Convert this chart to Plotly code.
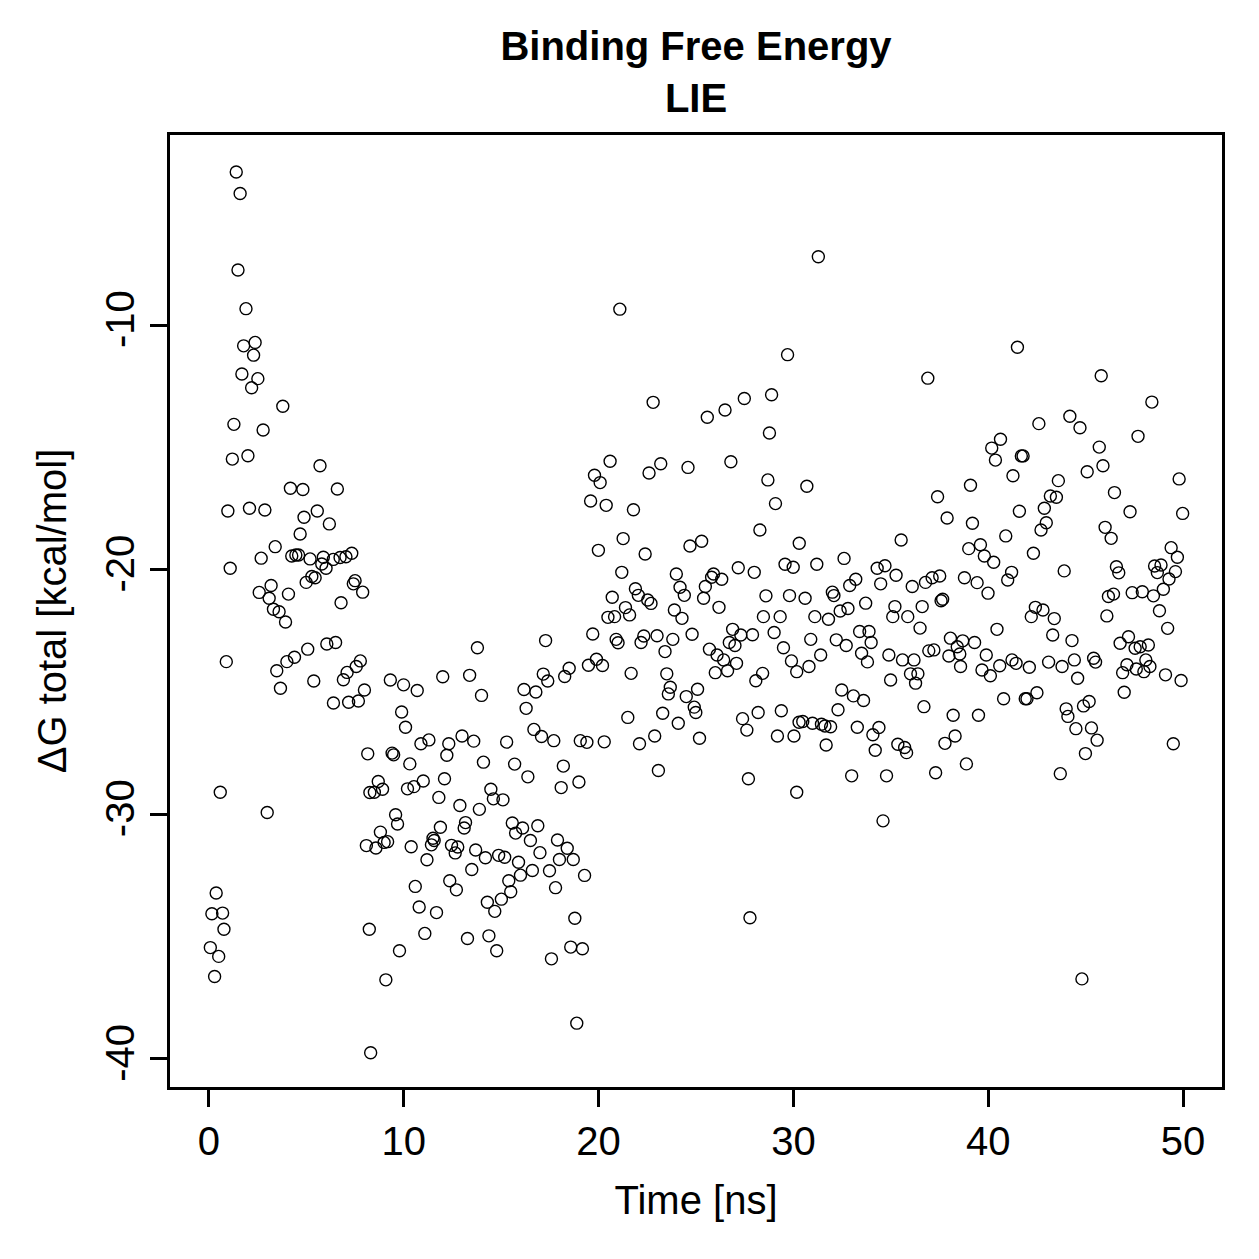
import plotly.graph_objects as go

time_ns = [
    0.07, 0.15, 0.29, 0.37, 0.5, 0.58, 0.7, 0.77, 0.89, 0.97, 1.09, 1.2, 1.28, 1.4, 1.49, 1.6, 1.69, 1.78, 1.9, 2.0,
    2.08, 2.19, 2.29, 2.37, 2.51, 2.58, 2.68, 2.78, 2.87, 2.99, 3.09, 3.19, 3.31, 3.4, 3.48, 3.6, 3.67, 3.79, 3.93, 4.0,
    4.08, 4.18, 4.25, 4.39, 4.46, 4.6, 4.68, 4.82, 4.88, 4.99, 5.07, 5.19, 5.28, 5.38, 5.45, 5.56, 5.7, 5.79, 5.87, 6.01,
    6.05, 6.18, 6.38, 6.39, 6.5, 6.59, 6.73, 6.78, 6.9, 7.03, 7.09, 7.17, 7.33, 7.41, 7.5, 7.56, 7.67, 7.77, 7.89, 7.98,
    8.08, 8.15, 8.23, 8.26, 8.3,
    8.49, 8.57, 8.69, 8.8, 8.91, 8.99, 9.08, 9.17, 9.31, 9.4, 9.48, 9.58, 9.68, 9.78, 9.89, 9.99, 10.09, 10.19, 10.31, 10.38,
    10.52, 10.59, 10.69, 10.79, 10.88, 11.0, 11.08, 11.19, 11.29, 11.42, 11.5, 11.56, 11.68, 11.8, 11.88, 12.0, 12.09, 12.21, 12.31, 12.36,
    12.45, 12.64, 12.7, 12.77, 12.88, 12.99, 13.1, 13.17, 13.27, 13.38, 13.49, 13.59, 13.69, 13.78, 13.88, 13.99, 14.09, 14.19, 14.29, 14.37,
    14.47, 14.6, 14.67, 14.77, 14.87, 15.01, 15.09, 15.18, 15.28, 15.39, 15.49, 15.57, 15.69, 15.74, 15.89, 15.99, 16.1, 16.17, 16.28, 16.37,
    16.5, 16.6, 16.68, 16.78, 16.88, 16.99, 17.07, 17.16, 17.28, 17.39, 17.48, 17.58, 17.7, 17.79, 17.89, 17.99, 18.08, 18.19, 18.26, 18.39,
    18.49, 18.57, 18.7, 18.78, 18.88, 18.99, 19.06, 19.17, 19.28, 19.4, 19.48, 19.7, 19.89, 20.2, 20.29, 20.48,
    19.59, 19.79, 19.99, 20.08, 20.39, 20.59, 20.7, 20.82, 20.9, 21.0, 21.09, 21.19, 21.26, 21.38, 21.5, 21.59, 21.67, 21.79, 21.89, 22.04,
    22.1, 22.18, 22.32, 22.39, 22.52, 22.59, 22.69, 22.8, 22.88, 23.0, 23.07, 23.19, 23.29, 23.41, 23.5, 23.58, 23.68, 23.81, 23.89, 23.99,
    24.09, 24.18, 24.28, 24.4, 24.5, 24.59, 24.69, 24.8, 24.91, 24.99, 25.08, 25.18, 25.29, 25.39, 25.48, 25.58, 25.69, 25.8, 25.9, 25.99,
    26.08, 26.18, 26.32, 26.42, 26.49, 26.62, 26.71, 26.79, 26.88, 27.0, 27.08, 27.17, 27.3, 27.39, 27.48, 27.61, 27.69, 27.77, 27.9, 27.99,
    28.07, 28.19, 28.28, 28.42, 28.46, 28.59, 28.69, 28.77, 28.88, 29.01, 29.08, 29.18, 29.32, 29.38, 29.49, 29.57, 29.7, 29.8, 29.9, 29.99,
    30.03, 30.17, 30.17, 30.29, 30.3,
    30.48, 30.6, 30.69, 30.8, 30.89, 30.98, 31.1, 31.2, 31.28, 31.4, 31.44, 31.62, 31.68, 31.8, 31.91, 32.0, 32.08, 32.2, 32.29, 32.4,
    32.48, 32.6, 32.71, 32.8, 32.89, 32.99, 33.08, 33.2, 33.28, 33.4, 33.5, 33.6, 33.71, 33.8, 33.88, 33.99, 34.08, 34.2, 34.3, 34.39,
    34.48, 34.6, 34.7, 34.78, 34.9, 34.99, 35.1, 35.21, 35.27, 35.36, 35.53, 35.6, 35.71, 35.81, 35.87, 36.01, 36.1, 36.19, 36.27, 36.39,
    36.5, 36.61, 36.7, 36.78, 36.9, 36.95, 37.12, 37.21, 37.3, 37.4, 37.51, 37.58, 37.66, 37.78, 37.89, 37.98, 38.06, 38.2, 38.3, 38.41,
    38.54, 38.58, 38.69, 38.78, 38.88, 39.0, 39.09, 39.19, 39.3, 39.43, 39.5, 39.6, 39.68, 39.8, 39.9, 39.99, 40.11, 40.18, 40.28, 40.37,
    40.45, 40.59, 40.63, 40.79, 40.9,
    41.0, 41.2, 41.22, 41.27, 41.43, 41.5, 41.6, 41.7, 41.79, 41.9, 41.99, 42.11, 42.21, 42.32, 42.42, 42.5, 42.6, 42.71, 42.81, 42.88,
    42.98, 43.1, 43.19, 43.31, 43.39, 43.5, 43.6, 43.7, 43.79, 43.9, 44.0, 44.09, 44.19, 44.3, 44.42, 44.5, 44.59, 44.71, 44.81, 44.89,
    44.99, 45.08, 45.18, 45.3, 45.41, 45.51, 45.59, 45.7, 45.8, 45.89, 46.0, 46.09, 46.17, 46.31, 46.43, 46.48, 46.58, 46.7, 46.77, 46.9,
    46.98, 47.12, 47.2, 47.28, 47.39, 47.54, 47.6, 47.69, 47.8, 47.91, 47.99, 48.09, 48.22, 48.3, 48.4, 48.48, 48.54, 48.68, 48.79, 48.87,
    48.99, 49.1, 49.21, 49.28, 49.39, 49.5, 49.61, 49.71, 49.8, 49.9, 49.98,
]

dG_total = [
    -35.45, -34.07, -36.63, -33.22, -35.81, -29.1, -34.04, -34.7, -23.76, -17.6, -19.94, -15.48, -14.06, -3.74, -7.75, -4.62, -12.0, -10.85, -9.33, -15.34,
    -17.49, -12.56, -11.23, -10.71, -12.19, -20.93, -19.53, -14.29, -17.56, -29.93, -21.17, -20.65, -21.62, -19.06, -24.13, -21.72, -24.85, -13.32, -22.14, -23.76,
    -21.0, -16.67, -19.44, -23.58, -19.4, -19.4, -18.54, -16.72, -17.86, -20.52, -23.25, -19.56, -20.28, -24.55, -20.33, -17.6, -15.75, -19.77, -19.49, -19.94,
    -23.04, -18.13, -19.58, -25.45, -22.98, -16.7, -19.5, -21.35, -24.5, -19.47, -24.2, -25.42, -19.33, -20.58, -20.45, -23.96, -25.37, -23.73, -20.92, -24.92,
    -31.28, -27.53, -34.7, -29.11, -39.75,
    -29.1, -31.38, -28.66, -30.73, -28.98, -31.15, -36.77, -31.12, -24.51, -27.5, -27.57, -30.02, -30.4, -35.58, -25.82, -24.71, -26.44, -28.96, -27.94, -31.33,
    -28.87, -32.95, -24.94, -33.79, -27.12, -28.64, -34.87, -31.86, -26.96, -31.25, -30.98, -31.07, -34.02, -29.31, -30.53, -24.38, -28.55, -27.59, -27.12, -32.72,
    -31.27, -31.58, -33.09, -31.34, -29.64, -26.8, -30.56, -30.34, -35.08, -24.32, -32.26, -27.01, -31.46, -23.19, -29.8, -25.14, -27.87, -31.78, -33.6, -34.97,
    -28.98, -29.37, -33.97, -35.58, -31.68, -33.47, -29.41, -31.76, -27.05, -32.72, -33.17, -30.36, -27.95, -30.77, -31.96, -32.49, -30.56, -24.9, -25.67, -28.47,
    -31.07, -32.3, -26.53, -25.0, -30.47, -31.57, -26.82, -24.27, -22.9, -24.55, -32.31, -35.91, -26.99, -33.0, -31.05, -31.85, -28.91, -28.03, -24.37, -31.39,
    -24.03, -35.43, -31.85, -34.25, -38.54, -28.68, -26.99, -35.5, -32.5, -27.06, -23.91, -22.63, -23.66, -23.92, -27.04, -21.95,
    -17.19, -16.14, -19.21, -16.44, -17.37, -15.57, -21.13, -21.92, -22.85, -22.99, -9.35, -20.11, -18.73, -21.55, -26.04, -21.85, -24.24, -17.55, -20.78, -21.05,
    -27.12, -22.98, -22.71, -19.36, -21.24, -16.05, -21.38, -13.16, -26.8, -22.7, -28.21, -15.67, -25.87, -23.35, -24.26, -25.08, -24.81, -22.85, -21.65, -20.18,
    -26.28, -20.72, -21.99, -21.05, -25.19, -15.82, -19.03, -22.64, -25.62, -25.84, -24.89, -26.89, -18.84, -21.17, -20.69, -13.77, -23.25, -20.31, -20.18, -24.21,
    -23.49, -21.54, -20.39, -23.69, -13.47, -24.13, -22.98, -15.59, -22.44, -23.1, -23.83, -19.92, -22.67, -26.09, -13.0, -26.56, -28.55, -34.23, -22.66, -20.11,
    -24.54, -25.84, -18.38, -24.24, -21.92, -21.07, -16.33, -14.41, -12.85, -22.57, -17.3, -26.8, -21.92, -25.77, -23.19, -19.78, -11.21, -21.06, -23.73, -19.9,
    -26.8, -24.17, -29.1, -26.24, -18.92,
    -26.21, -21.17, -16.59, -23.96, -22.85, -26.28, -21.92, -19.78, -7.21, -23.49, -26.32, -26.39, -27.17, -22.03, -26.42, -20.92, -21.06, -22.87, -25.73, -21.69,
    -24.92, -19.54, -23.1, -21.59, -20.65, -28.43, -25.16, -20.39, -26.44, -22.53, -23.42, -25.35, -21.37, -23.77, -22.53, -22.98, -26.75, -27.38, -19.94, -26.45,
    -20.58, -30.27, -19.84, -28.43, -23.49, -24.51, -21.92, -21.51, -20.23, -27.14, -18.79, -23.69, -27.27, -27.48, -21.92, -24.26, -20.69, -23.69, -24.64, -24.26,
    -22.39, -21.51, -25.6, -20.52, -12.17, -23.32, -20.33, -23.28, -28.3, -17.02, -20.26, -21.27, -21.21, -27.1, -17.89, -23.53, -22.8, -25.95, -26.8, -23.15,
    -23.45, -23.96, -22.91, -20.33, -27.94, -19.14, -16.55, -18.1, -22.98, -20.53, -25.95, -18.98, -24.1, -19.44, -23.49, -20.96, -24.34, -15.03, -19.7, -15.52,
    -22.44, -23.93, -14.67, -25.28, -18.62,
    -20.42, -20.11, -23.69, -16.16, -23.83, -10.91, -17.61, -15.35, -15.35, -25.28, -25.28, -23.99, -21.92, -19.33, -21.54, -25.03, -14.03, -18.38, -21.65, -17.49,
    -18.08, -23.78, -16.99, -22.67, -22.0, -17.04, -16.36, -28.34, -23.96, -20.05, -25.69, -26.0, -13.73, -22.9, -23.69, -26.5, -24.44, -14.2, -36.73, -25.57,
    -27.52, -16.0, -25.39, -26.47, -23.62, -23.78, -26.97, -14.99, -12.07, -15.75, -18.27, -21.89, -21.1, -18.72, -21.0, -16.85, -19.88, -20.13, -23.01, -24.21,
    -25.01, -23.89, -22.74, -17.63, -20.94, -23.21, -24.06, -14.55, -23.15, -20.9, -24.17, -23.69, -23.08, -23.96, -13.15, -21.07, -19.85, -20.12, -21.68, -19.81,
    -20.8, -24.3, -22.4, -20.38, -19.1, -27.12, -20.08, -19.49, -16.29, -24.53, -17.7,
]

x_ticks = [0, 10, 20, 30, 40, 50]
y_ticks = [-10, -20, -30, -40]

FONT = "Liberation Sans, Arial, Helvetica, sans-serif"

fig = go.Figure()
fig.add_trace(go.Scatter(
    x=time_ns, y=dG_total, mode="markers",
    marker=dict(symbol="circle-open", size=12, color="black", line=dict(width=1.4, color="black")),
    showlegend=False,
))

fig.update_layout(
    width=1259, height=1259,
    margin=dict(l=170, r=37, t=135, b=172),
    paper_bgcolor="white", plot_bgcolor="white",
    font=dict(family=FONT, color="black", size=40),
    title=dict(
        text="<b>Binding Free Energy</b><br><b>LIE</b>",
        font=dict(family=FONT, size=40, color="black"),
        x=0.5, xref="paper", xanchor="center",
        y=1 - 60 / 1259, yref="container", yanchor="middle",
    ),
    xaxis=dict(
        range=[-2, 52], tickvals=x_ticks, ticktext=[str(v) for v in x_ticks],
        showgrid=False, zeroline=False,
        showline=True, mirror=True, linecolor="black", linewidth=2.5,
        ticks="outside", ticklen=17, tickwidth=2.5, tickcolor="black",
        tickfont=dict(size=40, family=FONT),
        title=dict(text="Time [ns]", font=dict(size=40, family=FONT), standoff=25),
    ),
    yaxis=dict(
        range=[-41.15, -2.23], tickvals=y_ticks, ticktext=[str(v) for v in y_ticks],
        showgrid=False, zeroline=False,
        showline=True, mirror=True, linecolor="black", linewidth=2.5,
        ticks="outside", ticklen=17, tickwidth=2.5, tickcolor="black",
        tickangle=-90,
        tickfont=dict(size=40, family=FONT),
        title=dict(text="ΔG total [kcal/mol]", font=dict(size=40, family=FONT), standoff=20),
    ),
)

fig.write_html("out.html")
